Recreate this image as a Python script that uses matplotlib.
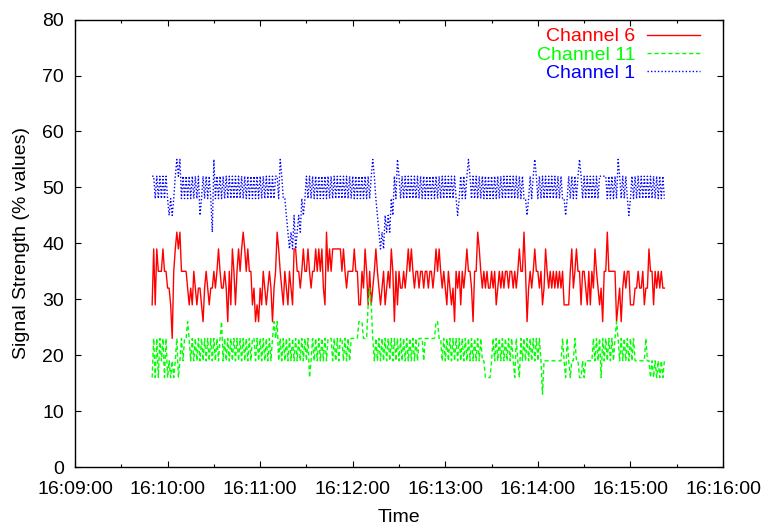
import datetime as dt
import matplotlib
matplotlib.use('Agg')
import matplotlib.pyplot as plt
import matplotlib.dates as mdates

plt.rcParams['font.family'] = ['Liberation Sans', 'DejaVu Sans']
plt.rcParams['font.size'] = 14

# samples are one second apart, starting at 16:09:50
start = dt.datetime(2000, 1, 1, 16, 9, 50)

ch6 = [29, 39, 29, 39, 35, 35, 35, 39, 35, 35,
       32, 32, 29, 23, 35, 39, 42, 39, 42, 35,
       35, 35, 35, 32, 29, 32, 29, 35, 32, 29,
       32, 32, 29, 26, 32, 35, 32, 29, 32, 32,
       35, 32, 35, 39, 35, 32, 32, 35, 32, 26,
       35, 29, 39, 35, 29, 35, 39, 35, 39, 42,
       39, 35, 39, 35, 35, 29, 32, 26, 29, 26,
       32, 29, 35, 32, 29, 32, 35, 32, 26, 32,
       35, 42, 39, 35, 32, 29, 35, 32, 29, 35,
       32, 29, 39, 39, 35, 35, 32, 35, 39, 35,
       35, 39, 35, 32, 35, 35, 39, 35, 39, 35,
       39, 32, 29, 42, 35, 39, 35, 39, 39, 39,
       39, 39, 39, 35, 39, 35, 32, 35, 35, 35,
       35, 39, 35, 35, 29, 29, 35, 32, 39, 35,
       29, 35, 29, 32, 35, 39, 35, 32, 29, 32,
       35, 29, 32, 35, 32, 39, 35, 26, 35, 29,
       35, 32, 32, 35, 32, 35, 39, 35, 39, 35,
       32, 35, 35, 32, 35, 35, 32, 35, 35, 32,
       35, 35, 32, 35, 39, 35, 39, 35, 32, 35,
       32, 29, 35, 32, 29, 32, 26, 35, 32, 35,
       29, 35, 32, 35, 39, 35, 35, 32, 26, 35,
       35, 42, 39, 35, 32, 35, 32, 35, 32, 32,
       35, 32, 35, 29, 32, 35, 32, 35, 32, 35,
       35, 32, 35, 35, 32, 35, 32, 35, 39, 35,
       35, 42, 35, 26, 32, 35, 32, 35, 39, 35,
       35, 32, 35, 29, 32, 39, 35, 32, 35, 32,
       35, 32, 35, 32, 35, 32, 35, 29, 29, 29,
       29, 35, 39, 32, 35, 39, 35, 35, 29, 35,
       35, 32, 29, 35, 29, 35, 32, 39, 35, 32,
       29, 32, 26, 35, 35, 42, 35, 35, 35, 35,
       35, 26, 29, 32, 26, 32, 35, 32, 35, 35,
       29, 29, 29, 32, 32, 35, 32, 32, 35, 29,
       32, 32, 39, 35, 35, 29, 35, 32, 35, 32,
       35, 32, 32]

ch11 = [16, 23, 16, 23, 16, 23, 19, 23, 16, 23,
        16, 19, 16, 19, 16, 19, 23, 16, 19, 23,
        19, 23, 23, 26, 23, 19, 23, 19, 23, 19,
        23, 19, 23, 19, 23, 19, 23, 19, 23, 19,
        23, 19, 23, 19, 23, 26, 19, 23, 19, 23,
        19, 23, 19, 23, 19, 23, 19, 23, 19, 23,
        19, 23, 19, 23, 19, 23, 23, 19, 23, 19,
        23, 19, 23, 19, 23, 19, 23, 19, 23, 26,
        23, 26, 19, 23, 19, 23, 19, 23, 19, 23,
        19, 23, 19, 23, 19, 23, 19, 23, 19, 23,
        19, 23, 16, 19, 23, 19, 23, 19, 23, 19,
        23, 19, 23, 19, 23, 23, 23, 19, 23, 19,
        23, 19, 23, 23, 19, 23, 19, 23, 19, 23,
        23, 23, 23, 23, 26, 26, 26, 23, 23, 23,
        29, 32, 29, 23, 19, 23, 19, 23, 19, 23,
        19, 23, 19, 23, 19, 23, 19, 23, 19, 23,
        19, 23, 19, 23, 19, 23, 19, 23, 19, 23,
        19, 23, 19, 23, 23, 23, 19, 23, 23, 23,
        23, 23, 23, 23, 26, 26, 23, 23, 19, 23,
        19, 23, 19, 23, 19, 23, 19, 23, 19, 23,
        19, 23, 19, 23, 19, 23, 19, 23, 19, 23,
        19, 23, 19, 23, 19, 19, 16, 16, 16, 16,
        19, 23, 19, 23, 19, 23, 19, 23, 19, 23,
        19, 23, 19, 23, 19, 16, 23, 19, 16, 23,
        19, 23, 19, 23, 19, 23, 19, 23, 19, 23,
        19, 23, 19, 13, 19, 19, 19, 19, 19, 19,
        19, 19, 19, 19, 19, 19, 23, 19, 16, 23,
        19, 16, 19, 19, 23, 19, 19, 16, 16, 19,
        16, 19, 19, 19, 19, 19, 23, 19, 23, 19,
        23, 16, 23, 19, 23, 19, 23, 19, 23, 19,
        23, 26, 23, 19, 23, 19, 23, 19, 23, 19,
        23, 19, 23, 19, 19, 19, 19, 19, 19, 19,
        23, 19, 19, 16, 19, 16, 19, 16, 19, 16,
        19, 16, 19]

ch1 = [52, 52, 48, 52, 48, 52, 48, 52, 48, 52,
       48, 45, 48, 45, 48, 52, 55, 52, 55, 48,
       52, 48, 52, 48, 52, 48, 52, 48, 52, 48,
       52, 45, 48, 52, 48, 52, 48, 52, 48, 42,
       55, 48, 52, 48, 52, 48, 52, 48, 52, 48,
       52, 48, 52, 48, 52, 48, 52, 48, 52, 48,
       52, 48, 52, 48, 52, 48, 52, 48, 52, 48,
       52, 48, 52, 48, 52, 48, 52, 48, 52, 48,
       52, 52, 48, 55, 52, 48, 48, 45, 42, 39,
       42, 39, 45, 39, 42, 45, 42, 48, 45, 48,
       52, 48, 52, 48, 52, 48, 52, 48, 52, 48,
       52, 48, 52, 48, 52, 48, 52, 48, 52, 48,
       52, 48, 52, 48, 52, 48, 52, 48, 52, 48,
       52, 48, 52, 48, 52, 48, 52, 48, 52, 48,
       52, 48, 52, 55, 52, 48, 45, 42, 39, 42,
       39, 45, 42, 45, 42, 48, 45, 52, 48, 55,
       52, 48, 52, 48, 52, 48, 52, 48, 52, 48,
       52, 48, 52, 48, 52, 48, 52, 48, 52, 48,
       52, 48, 52, 48, 52, 48, 52, 48, 52, 48,
       52, 48, 52, 48, 52, 48, 52, 48, 45, 48,
       52, 48, 52, 48, 52, 55, 52, 48, 52, 48,
       52, 48, 52, 48, 52, 48, 52, 48, 52, 48,
       52, 48, 52, 48, 52, 48, 52, 48, 52, 48,
       52, 48, 52, 48, 52, 48, 52, 48, 52, 48,
       52, 48, 48, 45, 48, 52, 48, 52, 55, 52,
       48, 52, 48, 52, 48, 52, 48, 52, 48, 52,
       48, 52, 48, 52, 48, 52, 48, 48, 45, 48,
       52, 48, 52, 48, 52, 48, 52, 55, 52, 48,
       52, 48, 52, 48, 52, 48, 52, 48, 52, 48,
       52, 52, 52, 52, 52, 48, 52, 48, 52, 48,
       52, 48, 55, 52, 48, 52, 48, 52, 48, 45,
       48, 52, 48, 52, 48, 52, 48, 52, 48, 52,
       48, 52, 48, 52, 48, 52, 48, 52, 48, 52,
       48, 52, 48]

times = [start + dt.timedelta(seconds=i) for i in range(len(ch6))]

fig = plt.figure(figsize=(7.63, 5.29), dpi=100)
ax = fig.add_axes([0.0983, 0.117, 0.8493, 0.846])

ax.plot(times, ch6, color='#ff0000', lw=1.0, label='Channel 6')
ax.plot(times, ch11, color='#00ff00', lw=1.0, ls=(0, (3, 2)), label='Channel 11')
ax.plot(times, ch1, color='#0000ff', lw=1.0, ls=(0, (1, 1.5)), label='Channel 1')

ax.set_xlim(dt.datetime(2000, 1, 1, 16, 9, 0), dt.datetime(2000, 1, 1, 16, 16, 0))
ax.set_ylim(0, 80)
ax.set_yticks(range(0, 81, 10))
ax.xaxis.set_major_locator(mdates.MinuteLocator())
ax.xaxis.set_minor_locator(mdates.SecondLocator(bysecond=[30]))
ax.xaxis.set_major_formatter(mdates.DateFormatter('%H:%M:%S'))

# gnuplot-like inward ticks on all four sides
ax.tick_params(which='both', direction='in', top=True, right=True, width=0.8)
ax.tick_params(which='major', length=4)
ax.tick_params(which='minor', length=2.5)
ax.tick_params(axis='x', which='major', pad=10)
ax.tick_params(axis='y', which='major', pad=8)
for sp in ax.spines.values():
    sp.set_linewidth(1.0)

ax.set_xlabel('Time', labelpad=8)
ax.set_ylabel('Signal Strength (% values)', labelpad=9)

leg = ax.legend(loc='upper right', bbox_to_anchor=(0.985, 1.012), frameon=False,
                markerfirst=False, handlelength=2.7, labelspacing=0.04,
                handletextpad=0.6, borderaxespad=0.3, labelcolor='linecolor')

fig.savefig('out.png', dpi=100)
